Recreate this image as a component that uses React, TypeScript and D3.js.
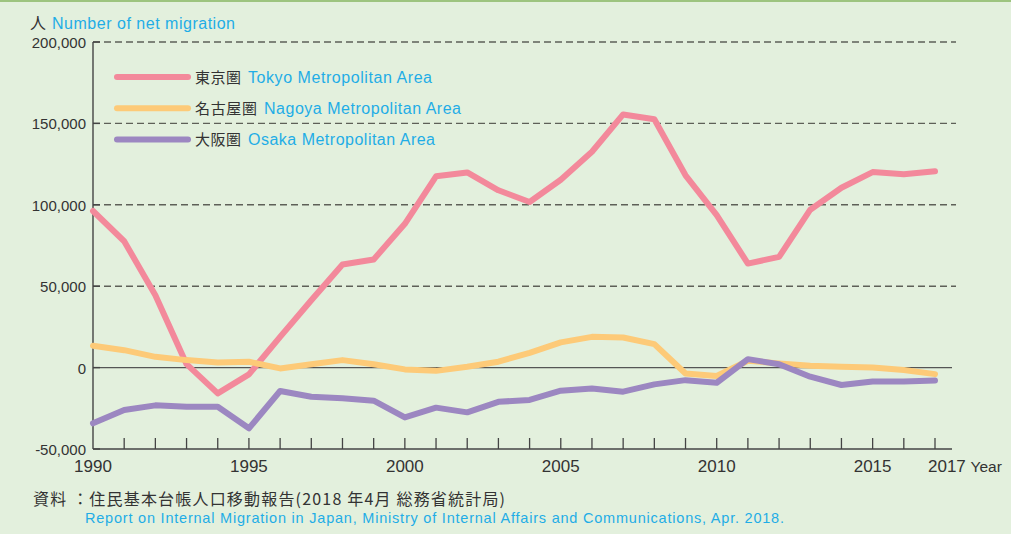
import React from 'react';
import * as d3 from 'd3';

const years = d3.range(1990, 2018);

const tokyo = [
  96200, 77600, 44500, 2100, -15800, -4200, 18900, 41400, 63300, 66400,
  88300, 117500, 119900, 108900, 101700, 115400, 132600, 155500, 152500, 118100,
  93600, 63900, 68000, 97000, 110500, 120100, 118700, 120600,
];
const nagoya = [
  13400, 10700, 6600, 4600, 3200, 3600, -500, 2000, 4600, 2100,
  -1100, -2000, 500, 3600, 9100, 15500, 18900, 18500, 14400, -3600,
  -5200, 4200, 2600, 1100, 500, 100, -1500, -4000,
];
const osaka = [
  -34200, -26100, -23200, -24000, -24000, -37300, -14400, -17900, -18900, -20300,
  -30600, -24600, -27500, -21000, -19900, -14200, -12800, -14800, -10300, -7700,
  -9300, 5200, 2100, -5600, -10700, -8500, -8500, -7900,
];

const yTicks = [-50000, 0, 50000, 100000, 150000, 200000];
const xLabels = [1990, 1995, 2000, 2005, 2010, 2015];

const seriesNames = ['東京圏', '名古屋圏', '大阪圏'];
const seriesEn = ['Tokyo Metropolitan Area', 'Nagoya Metropolitan Area', 'Osaka Metropolitan Area'];
const seriesValues = [tokyo, nagoya, osaka];
const colors = ['#f3899b', '#fdca78', '#9c87c1'];

const BLUE = '#1fade6';
const INK = '#333';
const NUM_FONT = '"Liberation Sans", Arial, sans-serif';
const JP_FONT = '"Noto Sans CJK JP", "Liberation Sans", sans-serif';

export default function App() {
  const width = 1011;
  const height = 534;

  const x = d3.scaleLinear().domain([1990, 2017]).range([93, 935]);
  const y = d3.scaleLinear().domain([-50000, 200000]).range([449, 42]);

  const line = d3
    .line<number>()
    .x((_, i) => x(years[i]))
    .y((d) => y(d));

  const fmt = d3.format(',');

  const enStart = [248, 264, 248];
  const enWidth = [184, 197, 187];
  const jpWidth = [46, 62, 46];

  return (
    <svg
      width={width}
      height={height}
      style={{ position: 'absolute', left: 0, top: 0, display: 'block' }}
    >
      <rect width={width} height={height} fill="#e3f0dd" />
      <rect width={width} height={2} fill="#9dc47f" />

      {/* header */}
      <text x={30} y={29} fontFamily={JP_FONT} fontSize={16} fill={INK}>
        人
      </text>
      <text
        x={52}
        y={29}
        fontFamily={NUM_FONT}
        fontSize={16}
        fill={BLUE}
        textLength={183}
        lengthAdjust="spacing"
      >
        Number of net migration
      </text>

      {/* grid */}
      {yTicks.map((t) =>
        t === 0 || t === -50000 ? null : (
          <line
            key={'g' + t}
            x1={x(1990)}
            x2={956}
            y1={y(t)}
            y2={y(t)}
            stroke="#5e6058"
            strokeWidth={1.4}
            strokeDasharray="7,4"
          />
        )
      )}
      <line x1={x(1990)} x2={952} y1={y(0)} y2={y(0)} stroke="#555" strokeWidth={1.4} />

      {/* y axis */}
      <line x1={x(1990)} x2={x(1990)} y1={y(200000)} y2={y(-50000)} stroke="#444" strokeWidth={1.4} />
      {yTicks.map((t) => (
        <g key={'y' + t}>
          <line x1={x(1990)} x2={x(1990) + 7} y1={y(t)} y2={y(t)} stroke="#444" strokeWidth={1.4} />
          <text
            x={86}
            y={y(t) + 6}
            textAnchor="end"
            fontFamily={NUM_FONT}
            fontSize={15}
            fill={INK}
          >
            {t < 0 ? '-' + fmt(-t) : fmt(t)}
          </text>
        </g>
      ))}

      {/* x axis */}
      <line x1={x(1990)} x2={952} y1={y(-50000)} y2={y(-50000)} stroke="#444" strokeWidth={1.4} />
      {years.slice(1).map((yr) => (
        <line
          key={'t' + yr}
          x1={x(yr)}
          x2={x(yr)}
          y1={y(-50000)}
          y2={y(-50000) - 11}
          stroke="#444"
          strokeWidth={1.3}
        />
      ))}
      {xLabels.map((yr) => (
        <text
          key={'l' + yr}
          x={x(yr)}
          y={472}
          textAnchor="middle"
          fontFamily={NUM_FONT}
          fontSize={17}
          fill={INK}
        >
          {yr}
        </text>
      ))}
      <text x={x(2017) - 7} y={472} fontFamily={NUM_FONT} fontSize={17} fill={INK}>
        2017 <tspan fontSize={15.5}>Year</tspan>
      </text>

      {/* series */}
      {seriesValues.map((vals, i) => (
        <path
          key={'s' + i}
          d={line(vals) ?? ''}
          fill="none"
          stroke={colors[i]}
          strokeWidth={6}
          strokeLinejoin="round"
          strokeLinecap="round"
        />
      ))}

      {/* legend */}
      {seriesNames.map((name, i) => {
        const ly = 77 + i * 31.2;
        return (
          <g key={'lg' + i}>
            <line x1={117} x2={188} y1={ly} y2={ly} stroke={colors[i]} strokeWidth={6} strokeLinecap="round" />
            <text
              x={195}
              y={ly + 6}
              fontFamily={JP_FONT}
              fontSize={15}
              fill={INK}
              textLength={jpWidth[i]}
              lengthAdjust="spacing"
            >
              {name}
            </text>
            <text
              x={enStart[i]}
              y={ly + 6}
              fontFamily={NUM_FONT}
              fontSize={16}
              fill={BLUE}
              textLength={enWidth[i]}
              lengthAdjust="spacing"
            >
              {seriesEn[i]}
            </text>
          </g>
        );
      })}

      {/* source */}
      <text
        x={33}
        y={505}
        fontFamily={JP_FONT}
        fontSize={16}
        fill={INK}
        textLength={472}
        lengthAdjust="spacing"
      >
        資料 ：住民基本台帳人口移動報告(2018 年4月 総務省統計局)
      </text>
      <text
        x={85}
        y={523}
        fontFamily={NUM_FONT}
        fontSize={14.5}
        fill={BLUE}
        textLength={699}
        lengthAdjust="spacing"
      >
        Report on Internal Migration in Japan, Ministry of Internal Affairs and Communications, Apr. 2018.
      </text>
    </svg>
  );
}
